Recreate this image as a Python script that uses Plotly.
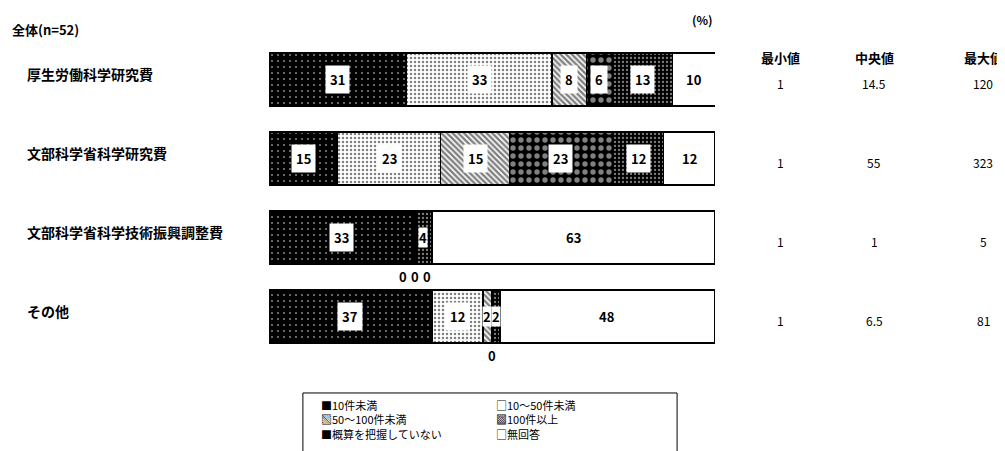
import plotly.graph_objects as go

# ─────────────────────────────────
# データ（全体 n=52、単位：%）
# ─────────────────────────────────
CATEGORIES = ["厚生労働科学研究費", "文部科学省科学研究費", "文部科学省科学技術振興調整費", "その他"]

SERIES_NAMES = ["10件未満", "10～50件未満", "50～100件未満", "100件以上", "概算を把握していない", "無回答"]

LT10      = [30.8, 15.4, 32.7, 36.5]
R10_50    = [32.7, 23.1, 0.0, 11.5]
R50_100   = [7.7, 15.4, 0.0, 1.9]
GE100     = [5.8, 23.1, 0.0, 0.0]
UNKNOWN   = [13.5, 11.5, 3.8, 1.9]
NO_ANSWER = [9.6, 11.5, 63.5, 48.1]

# 棒に表示されている数値（四捨五入済み）
LT10_LBL      = [31, 15, 33, 37]
R10_50_LBL    = [33, 23, 0, 12]
R50_100_LBL   = [8, 15, 0, 2]
GE100_LBL     = [6, 23, 0, 0]
UNKNOWN_LBL   = [13, 12, 4, 2]
NO_ANSWER_LBL = [10, 12, 63, 48]

STAT_HEADERS = ["最小値", "中央値", "最大値"]
MIN_VALS = ["1", "1", "1", "1"]
MED_VALS = ["14.5", "55", "1", "6.5"]
MAX_VALS = ["120", "323", "5", "81"]

LEGEND_COL1 = ["■10件未満", "▧50～100件未満", "■概算を把握していない"]
LEGEND_COL2 = ["□10～50件未満", "▩100件以上", "□無回答"]

FONT = "Noto Sans CJK JP"

values = [LT10, R10_50, R50_100, GE100, UNKNOWN, NO_ANSWER]
labels = [LT10_LBL, R10_50_LBL, R50_100_LBL, GE100_LBL, UNKNOWN_LBL, NO_ANSWER_LBL]

# 白黒スキャン風の塗りパターン
PATTERNS = [
    dict(shape=".", bgcolor="black", fgcolor="white", size=6, solidity=0.1),
    dict(shape=".", bgcolor="white", fgcolor="black", size=4, solidity=0.3),
    dict(shape="\\", bgcolor="white", fgcolor="black", size=4, solidity=0.6),
    dict(shape=".", bgcolor="black", fgcolor="white", size=8, solidity=0.35),
    dict(shape=".", bgcolor="black", fgcolor="white", size=4, solidity=0.25),
    dict(shape="", bgcolor="white", fgcolor="white"),
]

fig = go.Figure()
for name, vals, pat in zip(SERIES_NAMES, values, PATTERNS):
    fig.add_trace(go.Bar(
        name=name, y=CATEGORIES, x=vals, orientation="h",
        marker=dict(color="white", pattern=pat, line=dict(color="black", width=1.5)),
        showlegend=False, hoverinfo="name+x",
    ))

annotations = []

# 棒の数値ラベル（白抜きボックス）
for i, cat in enumerate(CATEGORIES):
    start = 0.0
    zeros = []
    for vals, lbls in zip(values, labels):
        v, lbl = vals[i], lbls[i]
        if lbl == 0:
            zeros.append(start)
        else:
            annotations.append(dict(
                x=start + v / 2, y=cat, xref="x", yref="y", text=f"<b>{lbl}</b>",
                showarrow=False, bgcolor="white", borderpad=4 if v >= 5 else 0,
                xanchor="center", yanchor="middle",
                font=dict(size=13, color="black", family=FONT),
            ))
        start += v
    for k, zx in enumerate(zeros):
        annotations.append(dict(
            x=zx, y=cat, xref="x", yref="y", text="<b>0</b>", showarrow=False,
            xanchor="center", yanchor="middle",
            xshift=(k - (len(zeros) - 1) / 2) * 12, yshift=-39,
            font=dict(size=13, color="black", family=FONT),
        ))

# 左側の項目名
for cat in CATEGORIES:
    annotations.append(dict(
        x=-0.547, y=cat, xref="paper", yref="y", text=f"<b>{cat}</b>", showarrow=False,
        xanchor="left", yanchor="middle", yshift=6,
        font=dict(size=14, color="black", family=FONT),
    ))

# 右側の統計値
stat_x = [1.146, 1.357, 1.601]
for hx, head, col in zip(stat_x, STAT_HEADERS, [MIN_VALS, MED_VALS, MAX_VALS]):
    annotations.append(dict(
        x=hx, y=0.946, xref="paper", yref="paper", text=f"<b>{head}</b>", showarrow=False,
        xanchor="center", yanchor="middle",
        font=dict(size=13, color="black", family=FONT),
    ))
    for cat, v in zip(CATEGORIES, col):
        annotations.append(dict(
            x=hx, y=cat, xref="paper", yref="y", text=v, showarrow=False,
            xanchor="center", yanchor="middle", yshift=-4,
            font=dict(size=12, color="black", family=FONT),
        ))

annotations.append(dict(
    x=-0.581, y=1.032, xref="paper", yref="paper", text="<b>全体(n=52)</b>",
    showarrow=False, xanchor="left", yanchor="middle",
    font=dict(size=13, color="black", family=FONT),
))
annotations.append(dict(
    x=0.973, y=1.066, xref="paper", yref="paper", text="<b>(%)</b>",
    showarrow=False, xanchor="center", yanchor="middle",
    font=dict(size=12, color="black", family=FONT),
))

# 凡例（枠付き・2列）
for lx, items in zip([0.114, 0.507], [LEGEND_COL1, LEGEND_COL2]):
    annotations.append(dict(
        x=lx, y=-0.126, xref="paper", yref="paper", text="<br>".join(items),
        showarrow=False, xanchor="left", yanchor="top", align="left", borderpad=0,
        font=dict(size=11, color="black", family=FONT),
    ))

fig.add_shape(type="rect", xref="paper", yref="paper",
              x0=0.076, x1=0.915, y0=-0.35, y1=-0.117,
              line=dict(color="black", width=1), fillcolor="rgba(0,0,0,0)")

# ページ既定の余白(8px)分を差し引いて配置
fig.update_layout(
    barmode="stack",
    bargap=0.33,
    width=1005, height=451,
    margin=dict(l=261, r=298, t=32, b=103),
    paper_bgcolor="white", plot_bgcolor="white",
    font=dict(family=FONT, color="black"),
    annotations=annotations,
    showlegend=False,
)
fig.update_xaxes(range=[0, 100], visible=False)
fig.update_yaxes(categoryorder="array", categoryarray=CATEGORIES,
                 range=[3.5, -0.5], visible=False)

fig.write_html("out.html")
